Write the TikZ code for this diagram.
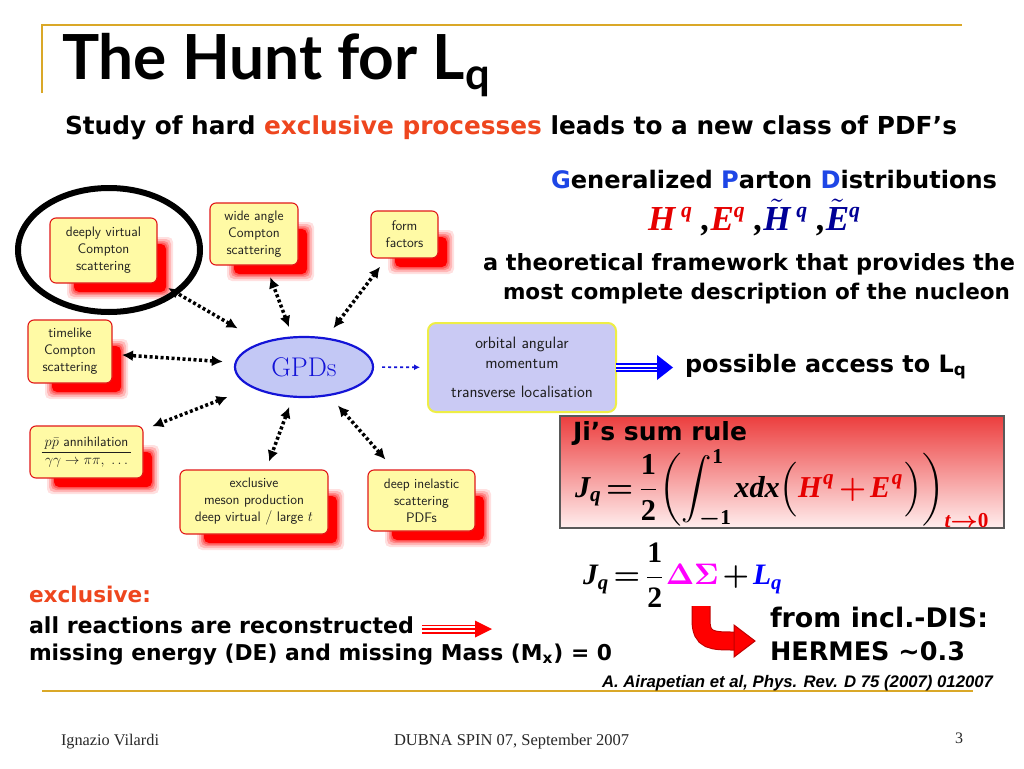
\documentclass[tikz,border=0pt]{standalone}
\usepackage{graphicx}
\usepackage{amsmath}
\usepackage{fontspec}
\newfontfamily\comic{DejaVu Sans}
\newfontfamily\titlef{Lato}
\newfontfamily\tms{Liberation Serif}
\newfontfamily\arl{Liberation Sans}
\usetikzlibrary{backgrounds,calc,arrows.meta,shapes.geometric}
\definecolor{gold}{RGB}{218,168,40}
\definecolor{boxfill}{RGB}{255,250,165}
\definecolor{boxred}{RGB}{225,25,25}
\definecolor{shadowred}{RGB}{255,0,0}
\definecolor{gpdfill}{RGB}{195,200,245}
\definecolor{gpdblue}{RGB}{20,20,215}
\definecolor{orbfill}{RGB}{202,202,244}
\definecolor{orbedge}{RGB}{238,238,70}
\definecolor{excl}{RGB}{238,70,30}
\definecolor{gpdB}{RGB}{30,70,230}
\definecolor{hred}{RGB}{230,0,0}
\definecolor{hblue}{RGB}{0,0,150}
\definecolor{magen}{RGB}{255,0,255}
\definecolor{jired}{RGB}{236,62,62}
\definecolor{jipink}{RGB}{255,238,238}
\definecolor{foot}{RGB}{40,40,40}
\newcommand\cs{\comic\bfseries}
\newcommand\ti[1]{\text{\tms\bfseries\itshape #1}}
\newcommand\tu[1]{\text{\tms\bfseries #1}}
\newcommand\fitw[2]{\resizebox{#1}{!}{#2}}
\newcommand\supq{\raisebox{0.36em}{\scalebox{0.62}{q}}}
\newcommand\tightmath{\thickmuskip=2mu plus 1mu\medmuskip=2mu\thinmuskip=1mu}
\newcommand\redshadow[1]{%
  \foreach \e/\o in {7/0.12,5/0.18,3/0.25,1.5/0.35,0/1}{%
    \fill[shadowred, opacity=\o, rounded corners=5pt]
      ($(#1.north west)+(24-\e,26-\e)$) rectangle ($(#1.south east)+(9+\e,9+\e)$);}}
\begin{document}
\begin{tikzpicture}[x=1pt,y=-1pt,
  txt/.style={inner sep=0pt, outer sep=0pt, anchor=base west},
  proc/.style={draw=boxred, line width=1.1pt, fill=boxfill, rounded corners=6pt,
    align=center, font=\fontsize{13.8}{17}\sffamily\selectfont, text=black!88,
    inner sep=0pt, outer sep=0pt},
  orbbox/.style={draw=orbedge, line width=2pt, fill=orbfill, rounded corners=8pt,
    align=center, font=\fontsize{16.5}{20}\sffamily\selectfont, text=black!88,
    inner sep=0pt, outer sep=0pt},
  gpdnode/.style={ellipse, draw=gpdblue, line width=2.2pt, fill=gpdfill,
    minimum width=138pt, minimum height=60pt, inner sep=0pt, outer sep=0pt,
    font=\fontsize{27}{27}\selectfont, text=gpdblue},
  jibox/.style={draw=black!65, line width=1.3pt, top color=jired, bottom color=jipink,
    inner sep=0pt, outer sep=0pt},
  darr/.style={line width=3.5pt, dash pattern=on 3pt off 2.5pt,
    {Latex[length=11pt,width=11pt]}-{Latex[length=11pt,width=11pt]}},
  bdot/.style={draw=gpdblue, line width=1.6pt, dash pattern=on 3pt off 3pt,
    -{Latex[length=6pt,width=6pt]}},
  tline/.style={draw=#1, line width=2pt, preaction={draw=#1, line width=9pt},
    preaction={draw=white, line width=5.5pt}},
  curvearr/.style={draw=red, line width=17pt, preaction={draw=red!75!black, line width=19pt}},
  goldline/.style={draw=gold, line width=2pt}
]
\useasboundingbox (0,0) rectangle (1024,768);

% frame lines
\draw[goldline] (42,93) -- (42,25) -- (962,25);
\draw[goldline] (42,691) -- (973,691);

% title and headings
\node[txt] (title) at (62,80) {\fitw{431pt}{\titlef\bfseries The Hunt for L\textsubscript{q}}};
\node[txt] (sub) at (65,134) {\fitw{892pt}{\cs Study of hard {\color{excl}exclusive processes} leads to a new class of PDF’s}};
\node[txt] (gpdh) at (551,188) {\fitw{446pt}{\cs {\color{gpdB}G}eneralized {\color{gpdB}P}arton {\color{gpdB}D}istributions}};
\node[txt] (hfs) at (648,230) {\fitw{212pt}{\tms\bfseries\itshape {\color{hred}H\,\supq}\;,{\color{hred}E\supq}\;,{\color{hblue}$\tilde{\text{H}}$\,\supq}\;,{\color{hblue}$\tilde{\text{E}}$\supq}}};
\node[txt] (fw1) at (483,270) {\fitw{532pt}{\cs a theoretical framework that provides the}};
\node[txt] (fw2) at (503,299) {\fitw{507pt}{\cs most complete description of the nucleon}};
\node[txt] (acc) at (685,372) {\fitw{282pt}{\cs possible access to L\textsubscript{q}}};

% diagram
\node[proc, minimum width=107pt, minimum height=65pt] (dvcs) at (103.5,250.5) {deeply virtual\\Compton\\scattering};
\node[proc, minimum width=88pt, minimum height=62pt] (wac) at (254,234) {wide angle\\Compton\\scattering};
\node[proc, minimum width=67pt, minimum height=47pt] (ff) at (404.5,234.5) {form\\factors};
\node[proc, minimum width=84pt, minimum height=63pt] (tcs) at (70,351.5) {timelike\\Compton\\scattering};
\node[proc, minimum width=113pt, minimum height=52pt] (ppb) at (86.5,452) {\setlength{\tabcolsep}{3pt}\begin{tabular}{c}$p\bar{p}$ annihilation\\\hline$\gamma\gamma\rightarrow\pi\pi,\ \ldots$\end{tabular}};
\node[proc, minimum width=148pt, minimum height=64pt] (meson) at (254,502) {exclusive\\meson production\\deep virtual $/$ large $t$};
\node[proc, minimum width=107pt, minimum height=61pt] (dis) at (421.5,500.5) {deep inelastic\\scattering\\PDFs};
\node[gpdnode] (gpd) at (304,367) {GPDs};
\node[orbbox, minimum width=188pt, minimum height=89pt] (orb) at (522,367.5) {orbital angular\\momentum\\[9pt]transverse localisation};

\begin{scope}[on background layer]
  \fill[white] (0,0) rectangle (1024,768);
  \foreach \b in {dvcs,wac,ff,tcs,ppb,meson,dis}{\redshadow{\b}}
\end{scope}

\draw[line width=6pt] (109,250) ellipse [x radius=91pt, y radius=62pt];

\draw[darr, shorten <=29pt, shorten >=13pt] (gpd) -- (dvcs);
\draw[darr, shorten <=11pt, shorten >=13pt] (gpd) -- (wac);
\draw[darr, shorten <=13pt, shorten >=11pt] (gpd) -- (ff);
\draw[darr, shorten <=13pt, shorten >=10pt] (gpd) -- (tcs);
\draw[darr, shorten <=27pt, shorten >=10pt] (gpd) -- (ppb);
\draw[darr, shorten <=11pt, shorten >=9pt] (gpd) -- (meson);
\draw[darr, shorten <=14pt, shorten >=14pt] (gpd) -- (dis);
\draw[bdot, shorten <=9pt, shorten >=8pt] (gpd) -- (orb);

% blue triple arrow
\coordinate (accB) at (657,367.5);
\coordinate (accT) at (673,367.5);
\draw[tline=blue] (orb.east) -- (accB);
\fill[blue] ($(accB)+(0,-12.5)$) -- (accT) -- ($(accB)+(0,12.5)$) -- cycle;

% Ji sum rule
\node[jibox, minimum width=444pt, minimum height=112pt] (ji) at (782,472) {};
\node[txt] (jit) at (573,440) {\fitw{174pt}{\cs Ji’s sum rule}};
\node[inner sep=0pt, outer sep=0pt, anchor=west] (jif) at (575,489) {\fitw{415pt}{\tightmath\boldmath$\displaystyle \ti{J}_{\ti{q}}=\frac{\tu{1}}{\tu{2}}\biggl(\int_{-\tu{1}}^{\tu{1}}\ti{xdx}\Bigl({\color{hred}\ti{H}^{\,\ti{q}}+\ti{E}^{\,\ti{q}}}\Bigr)\biggr)_{\color{hred}\ti{t}\to\tu{0}}$}};
\node[inner sep=0pt, outer sep=0pt, anchor=west] (jf2) at (583,575) {\fitw{200pt}{\tightmath\boldmath$\displaystyle \ti{J}_{\ti{q}}=\frac{\tu{1}}{\tu{2}}{\color{magen}\Delta\Sigma}+{\color{blue}\ti{L}_{\ti{q}}}$}};

% red curved arrow
\coordinate (cA) at (701,606);
\coordinate (cB) at (735,641);
\coordinate (cT) at (755,641);
\draw[curvearr] (cA) -- (701,620) .. controls (701,641) and (712,641) .. (cB);
\fill[red, draw=red!75!black, line width=1pt] ($(cB)+(-1,-16)$) -- (cT) -- ($(cB)+(-1,16)$) -- cycle;

\node[txt] (dis1) at (770,627) {\fitw{218pt}{\cs from incl.-DIS:}};
\node[txt] (dis2) at (770,660) {\fitw{195pt}{\cs HERMES \textasciitilde0.3}};
\node[txt] (cit) at (602,687) {\fitw{391pt}{\arl\bfseries\itshape A. Airapetian et al, Phys. Rev. D 75 (2007) 012007}};

% bottom left
\node[txt] (ex1) at (29,602) {\fitw{122pt}{\cs\color{excl} exclusive:}};
\node[txt] (ex2) at (29,633) {\fitw{385pt}{\cs all reactions are reconstructed}};
\node[txt] (ex3) at (29,660) {\fitw{583pt}{\cs missing energy (DE) and missing Mass (M\textsubscript{x}) = 0}};
\coordinate (rA) at (422,629);
\coordinate (rB) at (475,629);
\coordinate (rT) at (492,629);
\draw[tline=red] (rA) -- (rB);
\fill[red] ($(rB)+(0,-8.5)$) -- (rT) -- ($(rB)+(0,8.5)$) -- cycle;

% footer
\node[txt, text=foot] (f1) at (61,745) {\fitw{98pt}{\tms Ignazio Vilardi}};
\node[txt, text=foot] (f2) at (394,745) {\fitw{235pt}{\tms DUBNA SPIN 07, September 2007}};
\node[txt, text=foot] (f3) at (955,743) {\fontsize{16}{16}\tms 3};
\end{tikzpicture}
\end{document}
